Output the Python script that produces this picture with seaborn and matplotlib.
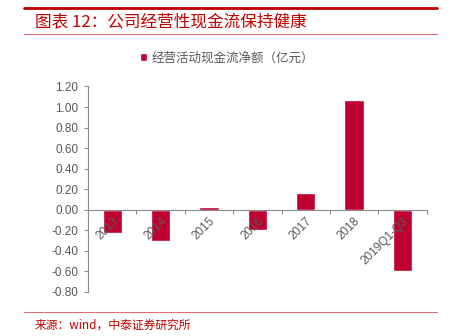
import matplotlib
matplotlib.use("Agg")
import matplotlib.pyplot as plt
import seaborn as sns
import pandas as pd
from matplotlib.lines import Line2D

categories = ["2013", "2014", "2015", "2016", "2017", "2018", "2019Q1-Q3"]
values = [-0.225, -0.31, 0.025, -0.195, 0.165, 1.07, -0.60]
yticks = [-0.8, -0.6, -0.4, -0.2, 0.0, 0.2, 0.4, 0.6, 0.8, 1.0, 1.2]
series_name = "经营活动现金流净额（亿元）"
title = "图表 12：公司经营性现金流保持健康"
source = "来源：wind，中泰证券研究所"

sns.set_theme(style="white")
plt.rcParams['font.family'] = ['Liberation Sans', 'Noto Sans CJK SC', 'DejaVu Sans']

W, H = 454, 336
fig = plt.figure(figsize=(W / 100, H / 100), dpi=100)
fig.patch.set_facecolor("white")

def fx(px):
    return px / W

def fy(py):
    return 1 - py / H

ax = fig.add_axes([fx(88), fy(291.7), fx(426.7) - fx(88), fy(86.5) - fy(291.7)])
df = pd.DataFrame({"cat": categories, "val": values})
bar_color = "#C00030"
sns.barplot(data=df, x="cat", y="val", color=bar_color, width=0.4, ax=ax,
            saturation=1, label=series_name)
for p in ax.patches:
    p.set_zorder(0.5)
ax.xaxis.set_zorder(5)

ax.set_ylim(-0.8, 1.2)
ax.set_xlim(-0.5, len(categories) - 0.5)
ax.set_yticks(yticks)
ax.set_yticklabels([f"{v:.2f}" for v in yticks])
ax.set_xlabel("")
ax.set_ylabel("")

for s in ["top", "right"]:
    ax.spines[s].set_visible(False)
ax.spines["bottom"].set_position(("data", 0))
ax.spines["left"].set_color("#8c8c8c")
ax.spines["bottom"].set_color("#8c8c8c")
ax.spines["left"].set_linewidth(0.8)
ax.spines["bottom"].set_linewidth(0.8)

ax.set_xticks([i - 0.5 for i in range(1, len(categories) + 1)], minor=True)
ax.tick_params(axis="x", which="major", length=0, pad=4, labelsize=8.5, labelcolor="#595959")
ax.tick_params(axis="x", which="minor", length=3, color="#8c8c8c", width=0.8, direction="out", bottom=True)
ax.tick_params(axis="y", length=3, color="#8c8c8c", width=0.8, direction="out", left=True,
               labelsize=8.5, labelcolor="#595959", pad=4)
for lbl in ax.get_xticklabels():
    lbl.set_rotation(45)
    lbl.set_ha("right")
    lbl.set_va("top")
    lbl.set_rotation_mode("anchor")
    lbl.set_zorder(6)

leg = ax.legend(loc="center", bbox_to_anchor=(0.5, fy(58)), bbox_transform=fig.transFigure,
                frameon=False, handlelength=0.6, handleheight=0.6, handletextpad=0.4,
                prop={"family": ["Noto Sans CJK SC"], "size": 9})
for t in leg.get_texts():
    t.set_color("#595959")

# decorative lines
fig.add_artist(Line2D([fx(24), fx(437)], [fy(7.5), fy(7.5)], color="#C00000", lw=2.0))
fig.add_artist(Line2D([fx(24), fx(437)], [fy(34), fy(34)], color="#E07070", lw=0.8))
fig.add_artist(Line2D([fx(24), fx(437)], [fy(312), fy(312)], color="#E07070", lw=0.8))

fig.text(fx(35), fy(21.5), title, color="#C00000", fontsize=12, va="center", ha="left",
         family=["Noto Sans CJK SC", "DejaVu Sans"])
fig.text(fx(35), fy(325), source, color="#C00000", fontsize=8.5, va="center", ha="left",
         family=["Noto Sans CJK SC", "DejaVu Sans"])

fig.savefig("out.png", dpi=100, facecolor="white")
